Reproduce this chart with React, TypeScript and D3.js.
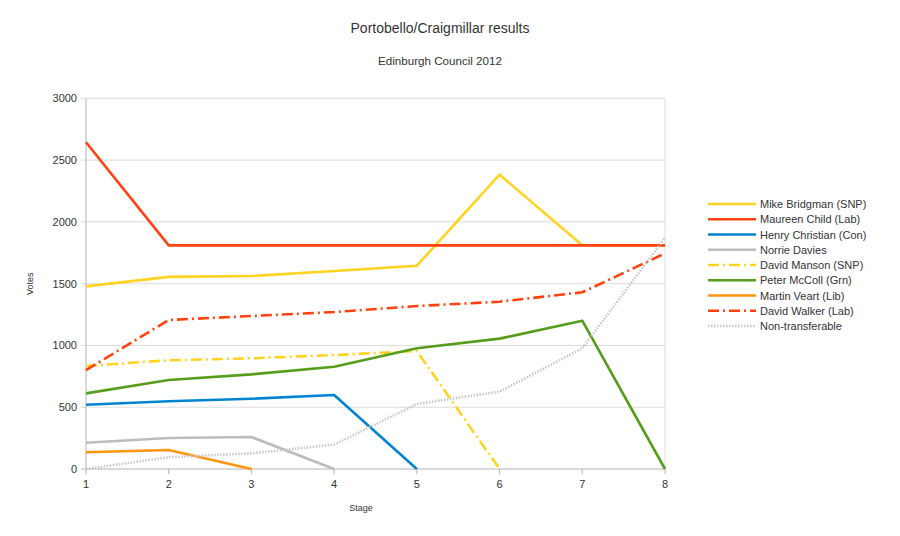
import React from "react";
import * as d3 from "d3";

const stages = [1, 2, 3, 4, 5, 6, 7, 8];
const yTicks = [0, 500, 1000, 1500, 2000, 2500, 3000];

const mikeBridgman = [1478, 1555, 1562, 1602, 1645, 2382, 1810, 1810];
const maureenChild = [2644, 1810, 1810, 1810, 1810, 1810, 1810, 1810];
const henryChristian = [520, 548, 569, 599, 0, null, null, null];
const norrieDavies = [213, 251, 259, 0, null, null, null, null];
const davidManson = [834, 880, 896, 922, 955, 0, null, null];
const peterMcColl = [612, 720, 766, 828, 977, 1055, 1200, 0];
const martinVeart = [135, 154, 0, null, null, null, null, null];
const davidWalker = [800, 1206, 1238, 1270, 1319, 1354, 1430, 1745];
const nonTransferable = [0, 95, 127, 197, 526, 626, 977, 1870];

const series = [
  { name: "Mike Bridgman (SNP)", values: mikeBridgman, color: "#ffd320", dash: null },
  { name: "Maureen Child (Lab)", values: maureenChild, color: "#ff420e", dash: null },
  { name: "Henry Christian (Con)", values: henryChristian, color: "#0084d1", dash: null },
  { name: "Norrie Davies", values: norrieDavies, color: "#bcbcbc", dash: null },
  { name: "David Manson (SNP)", values: davidManson, color: "#ffd320", dash: "11 4 2 4" },
  { name: "Peter McColl (Grn)", values: peterMcColl, color: "#579d1c", dash: null },
  { name: "Martin Veart (Lib)", values: martinVeart, color: "#ff950e", dash: null },
  { name: "David Walker (Lab)", values: davidWalker, color: "#ff420e", dash: "11 4 2 4" },
  { name: "Non-transferable", values: nonTransferable, color: "#c8c8c8", dash: "1.5 1.5" },
];

const W = 900;
const H = 536;
const margin = { left: 86, right: 235, top: 98.3, bottom: 67 };
const font = "'Liberation Sans', Arial, sans-serif";

export default function App() {
  const x = d3
    .scaleLinear()
    .domain([1, 8])
    .range([margin.left, W - margin.right]);
  const y = d3
    .scaleLinear()
    .domain([0, 3000])
    .range([H - margin.bottom, margin.top]);

  const line = d3
    .line<number | null>()
    .defined((d) => d !== null)
    .x((_, i) => x(stages[i]))
    .y((d) => y(d as number));

  const x0 = x.range()[0];
  const x1 = x.range()[1];
  const y0 = y.range()[0];
  const y1 = y.range()[1];

  return (
    <svg
      width={W}
      height={H}
      style={{ position: "absolute", left: 0, top: 0, background: "#fff" }}
      fontFamily={font}
    >
      <rect width={W} height={H} fill="#fff" />
      <text x={440} y={33} textAnchor="middle" fontSize={14} fill="#333">
        Portobello/Craigmillar results
      </text>
      <text x={440} y={65} textAnchor="middle" fontSize={11.6} fill="#333">
        Edinburgh Council 2012
      </text>

      {/* gridlines */}
      {yTicks.map((t) => (
        <g key={t}>
          <line
            x1={x0 - 5}
            x2={x1}
            y1={y(t)}
            y2={y(t)}
            stroke={t === 0 ? "#b3b3b3" : "#dcdcdc"}
          />
          <text
            x={x0 - 9}
            y={y(t) + 4}
            textAnchor="end"
            fontSize={11}
            fill="#333"
          >
            {t}
          </text>
        </g>
      ))}
      <line x1={x0} x2={x0} y1={y1} y2={y0} stroke="#b3b3b3" />
      <line x1={x1} x2={x1} y1={y1} y2={y0} stroke="#dcdcdc" />
      {stages.map((s) => (
        <g key={s}>
          <line x1={x(s)} x2={x(s)} y1={y0} y2={y0 + 5} stroke="#b3b3b3" />
          <text x={x(s)} y={y0 + 19} textAnchor="middle" fontSize={11} fill="#333">
            {s}
          </text>
        </g>
      ))}

      <text
        transform={`translate(33, ${(y0 + y1) / 2}) rotate(-90)`}
        textAnchor="middle"
        fontSize={9}
        fill="#333"
      >
        Votes
      </text>
      <text x={361} y={511} textAnchor="middle" fontSize={9} fill="#333">
        Stage
      </text>

      {series.map((s) => (
        <path
          key={s.name}
          d={line(s.values) || ""}
          fill="none"
          stroke={s.color}
          strokeWidth={2.6}
          strokeDasharray={s.dash || undefined}
          strokeLinejoin="round"
        />
      ))}

      {/* legend */}
      {series.map((s, i) => {
        const ly = 204 + i * 15.25;
        return (
          <g key={s.name}>
            <line
              x1={708}
              x2={756}
              y1={ly}
              y2={ly}
              stroke={s.color}
              strokeWidth={2.6}
              strokeDasharray={s.dash || undefined}
            />
            <text x={760} y={ly + 4} fontSize={11} fill="#333">
              {s.name}
            </text>
          </g>
        );
      })}
    </svg>
  );
}
